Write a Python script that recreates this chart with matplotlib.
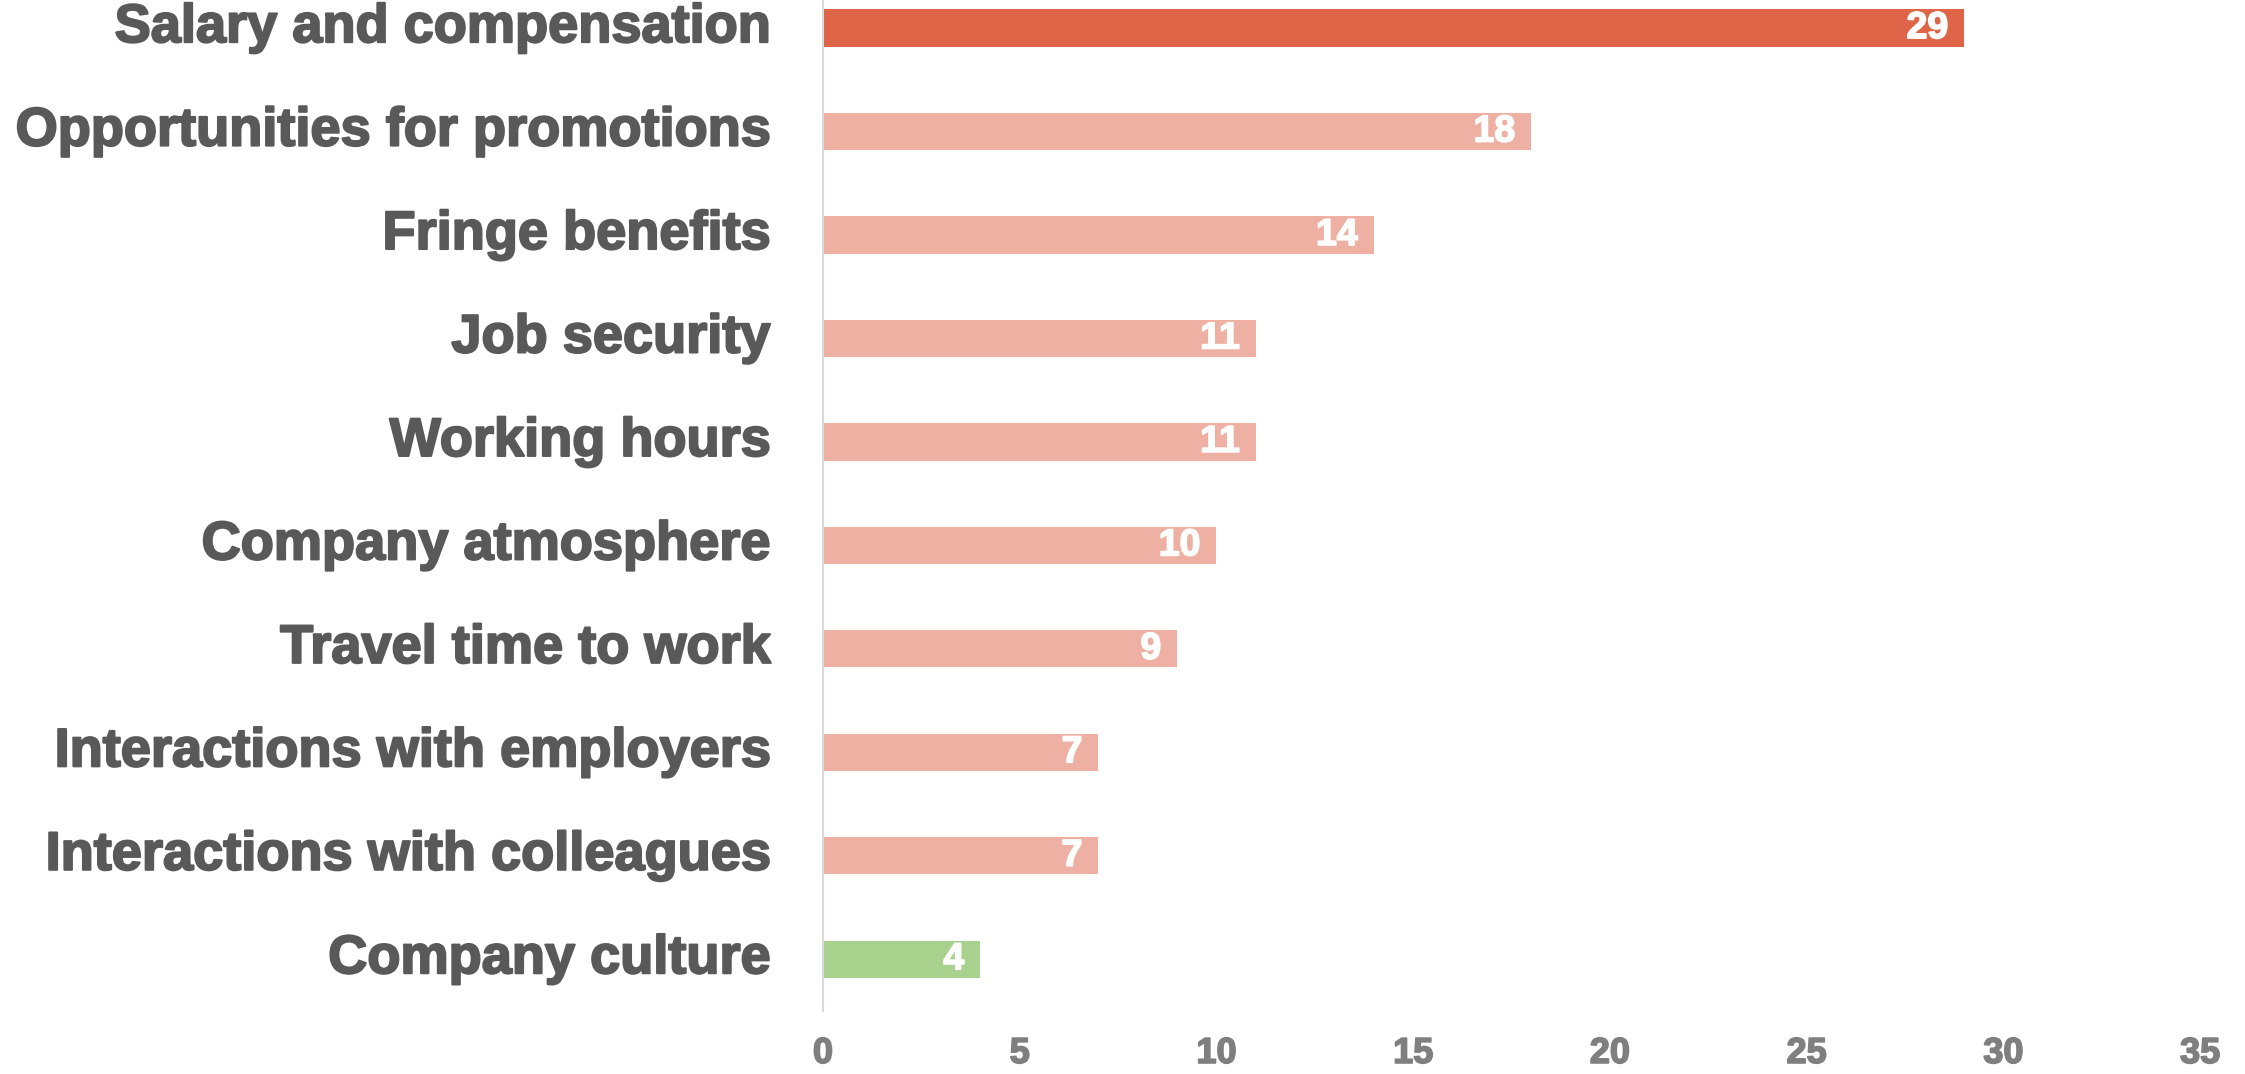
import matplotlib.pyplot as plt
import matplotlib.patheffects as pe

plt.rcParams['font.family'] = ['Liberation Sans', 'DejaVu Sans']

categories = ['Salary and compensation', 'Opportunities for promotions', 'Fringe benefits',
              'Job security', 'Working hours', 'Company atmosphere', 'Travel time to work',
              'Interactions with employers', 'Interactions with colleagues', 'Company culture']
values = [29, 18, 14, 11, 11, 10, 9, 7, 7, 4]
bar_colors = ['#DE6548'] + ['#EEB0A2'] * 8 + ['#A9D18E']
x_ticks = [0, 5, 10, 15, 20, 25, 30, 35]

fig = plt.figure(figsize=(22.45, 10.74), dpi=100)
ax = fig.add_axes([0.3666, 0.0587, 0.6134, 0.9633])

pos = list(range(len(categories)))
ax.barh(pos, values, height=0.36, color=bar_colors)

for y, v in zip(pos, values):
    ax.annotate(str(v), xy=(v, y), xytext=(-16, 0), textcoords='offset pixels',
                ha='right', va='center', color='white', fontsize=27, fontweight='bold',
                path_effects=[pe.withStroke(linewidth=1.2, foreground='white')])

ax.set_ylim(len(categories) - 0.5, -0.5)
ax.set_xlim(0, 35)
ax.set_yticks(pos)
ax.set_yticklabels(categories, fontsize=39, fontweight='bold', color='#595959', va='center')
for lab in ax.get_yticklabels():
    lab.set_path_effects([pe.withStroke(linewidth=1.5, foreground='#595959')])
ax.set_xticks(x_ticks)
ax.set_xticklabels([str(t) for t in x_ticks], fontsize=26, fontweight='bold', color='#7F7F7F')
for lab in ax.get_xticklabels():
    lab.set_path_effects([pe.withStroke(linewidth=1.2, foreground='#7F7F7F')])
ax.tick_params(axis='y', length=0, pad=38)
ax.tick_params(axis='x', length=0, pad=18)

for side in ['top', 'right', 'bottom']:
    ax.spines[side].set_visible(False)
ax.spines['left'].set_color('#D9D9D9')
ax.spines['left'].set_linewidth(1.5)

fig.savefig('out.png', dpi=100)
